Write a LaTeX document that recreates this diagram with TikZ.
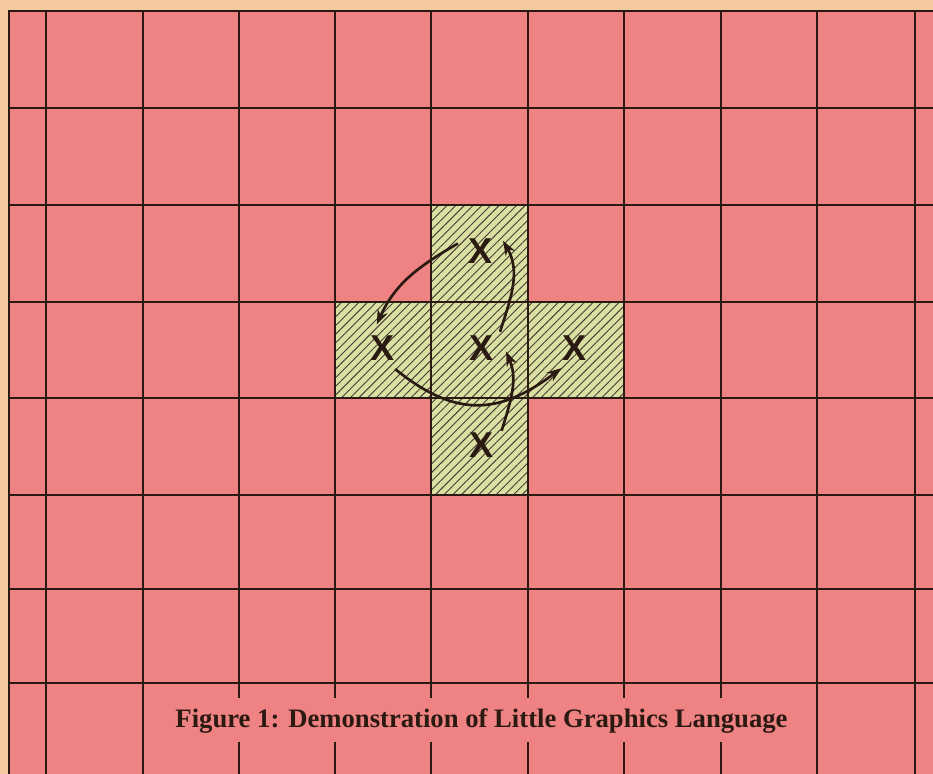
\documentclass[tikz,border=0pt]{standalone}
\usepackage{fontspec}
\setmainfont{Liberation Serif}
\newfontfamily\markfont{Liberation Sans}
\usepackage{xcolor}
\definecolor{paper}{HTML}{F4C9A2}
\definecolor{gridred}{HTML}{EF8282}
\definecolor{crossfill}{HTML}{D9E0A2}
\definecolor{ink}{HTML}{2A1A12}
\usepackage{tikz}
\usetikzlibrary{arrows.meta,patterns.meta}

\begin{document}
\begin{tikzpicture}[
    x=0.75pt,y=0.75pt,>=Stealth,
    gridline/.style={draw=ink, line width=2pt},
    crosscell/.style={fill=crossfill, postaction={pattern={Lines[angle=45,distance=4.6pt,line width=0.7pt]}, pattern color=ink!85}},
    xmark/.style={circle, inner sep=0pt, minimum size=36pt, font=\markfont\bfseries\fontsize{27}{27}\selectfont, text=ink},
    arr/.style={-{Stealth[length=11pt,width=8pt]}, line width=2pt, draw=ink}
  ]
  \useasboundingbox (0,0) rectangle (933,-774);
  \fill[paper] (0,0) rectangle (933,-774);
  \fill[gridred] (9,-11) rectangle (933,-774);

  % plus shaped block
  \path[crosscell] (431,-205) -- (528,-205) -- (528,-302) -- (624,-302) -- (624,-398) -- (528,-398)
    -- (528,-495) -- (431,-495) -- (431,-398) -- (335,-398) -- (335,-302) -- (431,-302) -- cycle;

  % grid
  \foreach \y in {108,205,302,398,495,589,683} {\draw[gridline] (9,-\y) -- (933,-\y);}
  \foreach \x in {46,143,817,915} {\draw[gridline] (\x,-11) -- (\x,-774);}
  \foreach \x in {239,335,431,528,624,721} {
    \draw[gridline] (\x,-11) -- (\x,-698);
    \draw[gridline] (\x,-742) -- (\x,-774);
  }
  \draw[gridline] (9,-774) -- (9,-11) -- (933,-11);

  % marks
  \node[xmark] (xtop) at (481,-251) {X};
  \node[xmark] (xleft) at (383,-348) {X};
  \node[xmark] (xmid) at (482,-348) {X};
  \node[xmark] (xright) at (575,-348) {X};
  \node[xmark] (xbot) at (482,-445) {X};

  % moves
  \draw[arr] (xtop.162) to[out=210,in=66] (xleft.105);
  \draw[arr] (xmid.42) to[out=72,in=-60] (xtop.25);
  \draw[arr] (xleft.-60) to[out=-39,in=217,looseness=1.2] (xright.236);
  \draw[arr] (xbot.36) to[out=73,in=-67] (xmid.-8);

  % caption
  \node[font=\bfseries\fontsize{20}{24}\selectfont, text=ink, anchor=base] (caption) at (481.5,-727)
    {Figure 1: Demonstration of Little Graphics Language};
\end{tikzpicture}
\end{document}
